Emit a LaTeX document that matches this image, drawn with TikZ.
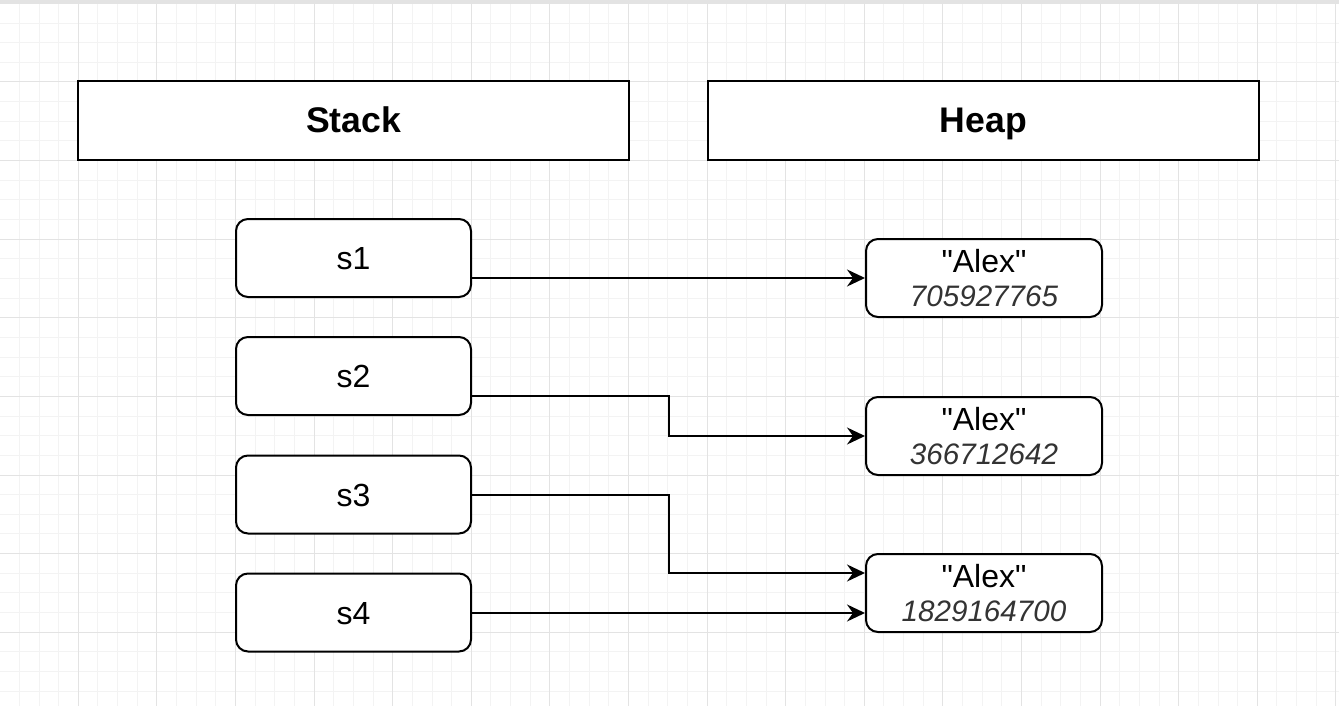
\documentclass[tikz,border=0pt]{standalone}
\usepackage{fontspec}
\setmainfont{Liberation Sans}
\usetikzlibrary{arrows.meta,calc}
\definecolor{gridminor}{HTML}{F3F3F3}
\definecolor{gridmajor}{HTML}{E3E3E3}
\definecolor{numgray}{HTML}{333333}
\newcommand{\dq}{\XeTeXglyph\XeTeXcharglyph"22\relax}
\newcommand{\strlit}[1]{\dq #1\dq}
\newcommand{\hashno}[1]{{\color{numgray}\fontsize{14.8}{17}\selectfont\itshape #1}}
\begin{document}
\begin{tikzpicture}[x=0.5pt,y=-0.5pt,
    header/.style={draw,line width=1pt,fill=white,minimum width=275.5pt,minimum height=39.5pt,
      text height=12.7pt,text depth=0.5pt,font=\fontsize{17.8}{20}\selectfont\bfseries},
    var/.style={draw,line width=1pt,fill=white,rounded corners=6pt,minimum width=117.5pt,
      minimum height=39pt,text height=11.5pt,text depth=0pt,font=\fontsize{16}{18}\selectfont},
    obj/.style={draw,line width=1pt,fill=white,rounded corners=6pt,minimum width=118pt,
      minimum height=39pt,align=center,inner sep=0pt,font=\fontsize{16}{17}\selectfont},
    ref/.style={line width=1pt,-{Stealth[length=9pt,width=8.5pt,inset=3pt]}}]
  \useasboundingbox (0,0) rectangle (1339,706);
  \fill[white] (0,0) rectangle (1339,706);

  % grid
  \foreach \i in {0,...,68}
  {
    \draw[gridminor,line width=0.5pt] ({-0.3+19.65*\i},3.4) -- ({-0.3+19.65*\i},706);
  };
  \foreach \j in {0,...,35}
  {
    \draw[gridminor,line width=0.5pt] (0,{3.4+19.65*\j}) -- (1339,{3.4+19.65*\j});
  };
  \foreach \i in {0,...,17}
  {
    \draw[gridmajor,line width=0.5pt] ({-0.3+78.6*\i},3.4) -- ({-0.3+78.6*\i},706);
  };
  \foreach \j in {0,...,8}
  {
    \draw[gridmajor,line width=0.5pt] (0,{3.4+78.6*\j}) -- (1339,{3.4+78.6*\j});
  };
  \fill[gridmajor] (0,0) rectangle (1339,3.4);

  \node[header] (stack) at (353.5,120.5) {Stack};
  \node[header] (heap) at (983.5,120.5) {Heap};

  \node[var] (s1) at (353.5,258) {s1};
  \node[var] (s2) at (353.5,376) {s2};
  \node[var] (s3) at (353.5,494.5) {s3};
  \node[var] (s4) at (353.5,612.5) {s4};

  \node[obj] (h1) at (984,278) {\strlit{Alex}\\\hashno{705927765}};
  \node[obj] (h2) at (984,436) {\strlit{Alex}\\\hashno{366712642}};
  \node[obj] (h3) at (984,593) {\strlit{Alex}\\\hashno{1829164700}};

  \coordinate (s2out) at ($(s2.north east)!0.75!(s2.south east)$);
  \coordinate (h3top) at ($(h3.north west)!0.25!(h3.south west)$);
  \coordinate (h3bot) at ($(h3.north west)!0.75!(h3.south west)$);

  \draw[ref] (s1.east |- h1.west) -- (h1.west);
  \draw[ref] (s2out) -| ($(s2out)!0.5!(h2.west)$) |- (h2.west);
  \draw[ref] (s3.east) -| ($(s3.east)!0.5!(h3top)$) |- (h3top);
  \draw[ref] (s4.east |- h3bot) -- (h3bot);
\end{tikzpicture}
\end{document}
